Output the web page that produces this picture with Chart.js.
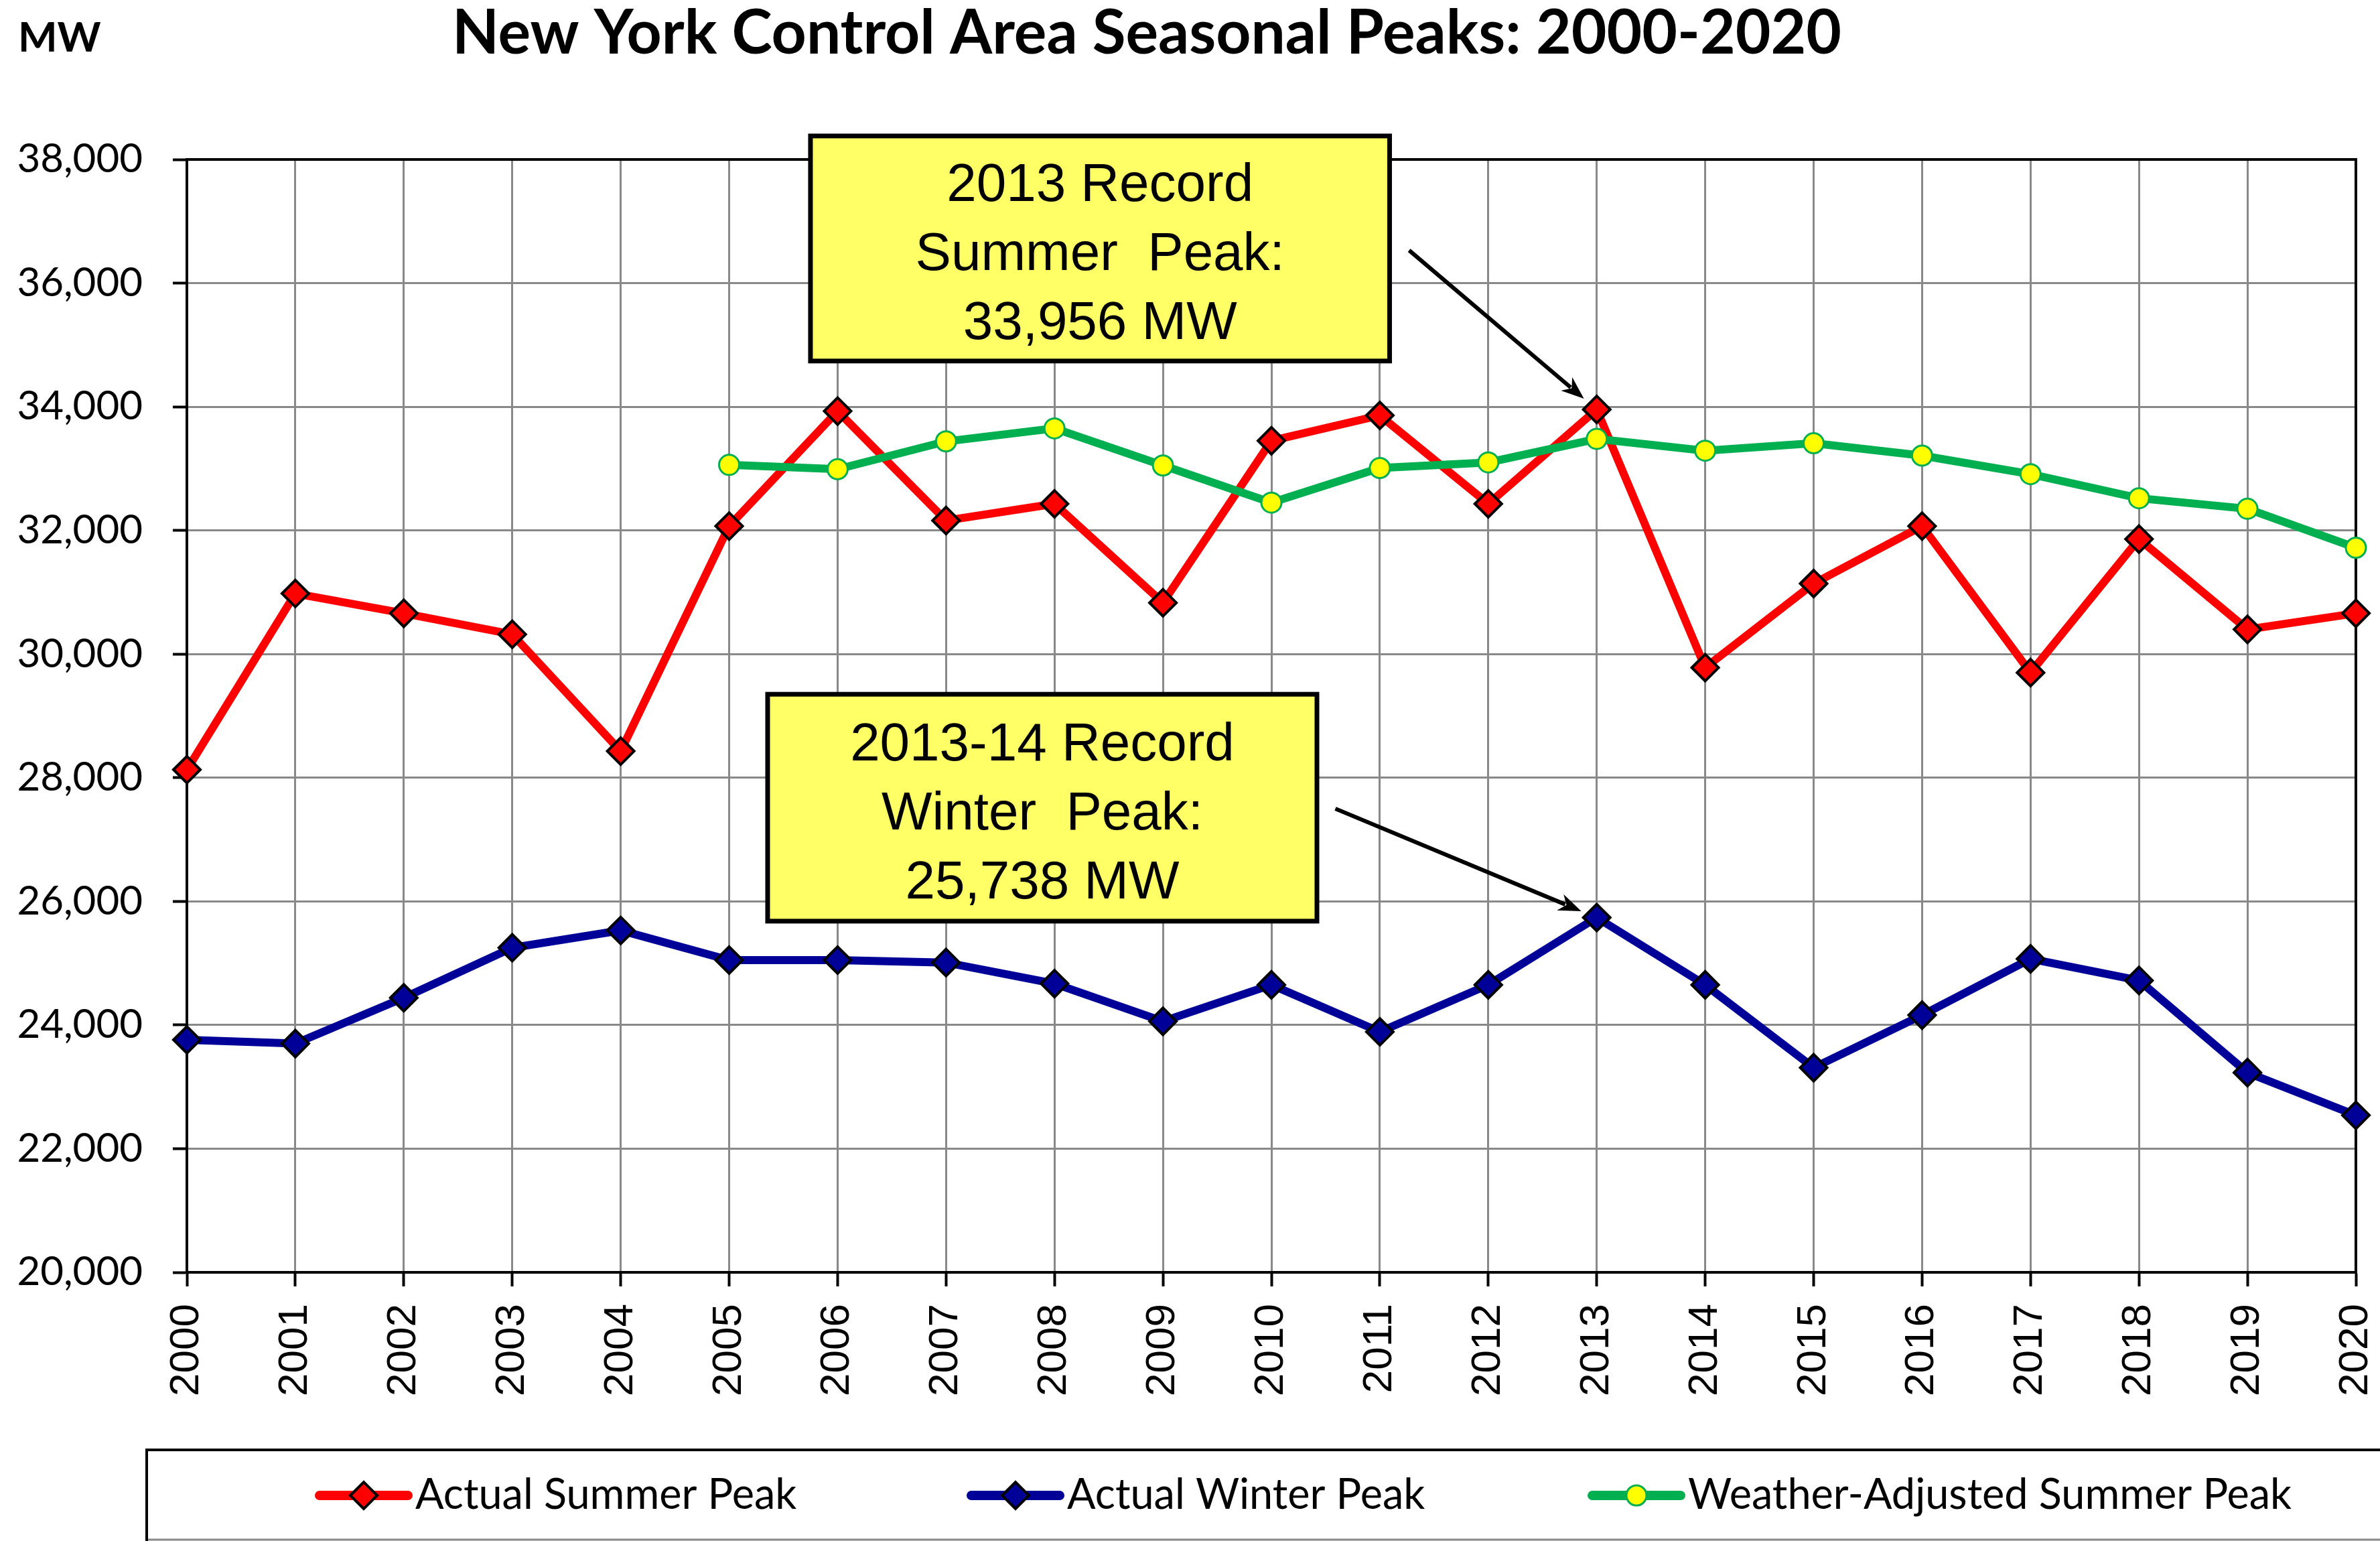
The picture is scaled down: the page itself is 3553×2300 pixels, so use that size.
<!DOCTYPE html>
<html>
<head>
<meta charset="utf-8">
<title>New York Control Area Seasonal Peaks: 2000-2020</title>
<script src="https://cdn.jsdelivr.net/npm/chart.js@4.4.1/dist/chart.umd.min.js"></script>
<style>
  html, body { margin: 0; padding: 0; background: #fff; }
  #wrap { width: 3553px; height: 2300px; }
</style>
</head>
<body>
<div id="wrap"><canvas id="peaks" width="3553" height="2300"></canvas></div>
<script>
// values (MW)
const years = ['2000', '2001', '2002', '2003', '2004', '2005', '2006', '2007', '2008', '2009', '2010',
               '2011', '2012', '2013', '2014', '2015', '2016', '2017', '2018', '2019', '2020'];
const summerPeak = [28130, 30980, 30660, 30320, 28430, 32070, 33930, 32160, 32430, 30830, 33450,
                    33860, 32430, 33956, 29780, 31140, 32070, 29700, 31860, 30400, 30660];
const winterPeak = [23760, 23700, 24440, 25250, 25530, 25050, 25050, 25010, 24670, 24060, 24650,
                    23890, 24650, 25738, 24650, 23310, 24160, 25070, 24720, 23230, 22540];
const weatherAdjusted = [null, null, null, null, null, 33060, 32990, 33440, 33650, 33050, 32450,
                         33010, 33100, 33480, 33290, 33410, 33210, 32910, 32520, 32350, 31720];
const yTickValues = [20000, 22000, 24000, 26000, 28000, 30000, 32000, 34000, 36000, 38000];

// call-out boxes, placed in data units (x = year index, y = MW)
const notes = [
    { lines: ['2013 Record', 'Summer  Peak:', '33,956 MW'],
      box: [5.75, 38380, 11.09, 34740], from: [11.27, 36530], series: 0, index: 13 },
    { lines: ['2013-14 Record', 'Winter  Peak:', '25,738 MW'],
      box: [5.355, 29350, 10.42, 25680], from: [10.59, 27500], series: 1, index: 13 }
];

const legendItems = [
    { label: 'Actual Summer Peak', series: 0, x: 477 },
    { label: 'Actual Winter Peak', series: 1, x: 1450 },
    { label: 'Weather-Adjusted Summer Peak', series: 2, x: 2377 }
];

function drawArrow(ctx, x1, y1, x2, y2) {
    const ang = Math.atan2(y2 - y1, x2 - x1);
    const headLen = 34, headHalf = 13;
    const bx = x2 - headLen * Math.cos(ang), by = y2 - headLen * Math.sin(ang);
    ctx.beginPath();
    ctx.moveTo(x1, y1);
    ctx.lineTo(bx + 8 * Math.cos(ang), by + 8 * Math.sin(ang));
    ctx.stroke();
    ctx.beginPath();
    ctx.moveTo(x2, y2);
    ctx.lineTo(bx - headHalf * Math.sin(ang), by + headHalf * Math.cos(ang));
    ctx.lineTo(bx + 10 * Math.cos(ang), by + 10 * Math.sin(ang));
    ctx.lineTo(bx + headHalf * Math.sin(ang), by - headHalf * Math.cos(ang));
    ctx.closePath();
    ctx.fill();
}

const extras = {
    id: 'extras',
    beforeDatasetsDraw(chart) {
        // black frame on top and right of the plot
        const { ctx, chartArea: a } = chart;
        ctx.save();
        ctx.strokeStyle = '#000';
        ctx.lineWidth = 4;
        ctx.beginPath();
        ctx.moveTo(a.left - 2, a.top);
        ctx.lineTo(a.right, a.top);
        ctx.lineTo(a.right, a.bottom);
        ctx.stroke();
        ctx.restore();
    },
    afterDraw(chart) {
        const { ctx } = chart;
        const xs = chart.scales.x, ys = chart.scales.y;
        ctx.save();

        // title and unit
        ctx.fillStyle = '#000';
        ctx.textBaseline = 'alphabetic';
        ctx.font = 'bold 91px Lato';
        ctx.textAlign = 'center';
        ctx.fillText('New York Control Area Seasonal Peaks: 2000-2020', 1712, 80);
        ctx.font = 'bold 62px Lato';
        ctx.textAlign = 'left';
        ctx.fillText('MW', 27, 77);

        // call-outs
        notes.forEach(n => {
            const l = xs.getPixelForValue(n.box[0]), r = xs.getPixelForValue(n.box[2]);
            const t = ys.getPixelForValue(n.box[1]), b = ys.getPixelForValue(n.box[3]);
            ctx.fillStyle = '#FFFF66';
            ctx.strokeStyle = '#000';
            ctx.lineWidth = 7;
            ctx.fillRect(l, t, r - l, b - t);
            ctx.strokeRect(l, t, r - l, b - t);
            ctx.fillStyle = '#000';
            ctx.font = '80px "Liberation Sans"';
            ctx.textAlign = 'center';
            const cx = (l + r) / 2, cy = (t + b) / 2;
            n.lines.forEach((s, i) => ctx.fillText(s, cx, cy + (i - 1) * 103 + 32));

            const pt = chart.getDatasetMeta(n.series).data[n.index];
            const fx = xs.getPixelForValue(n.from[0]), fy = ys.getPixelForValue(n.from[1]);
            const ang = Math.atan2(pt.y - fy, pt.x - fx);
            ctx.lineWidth = 6;
            drawArrow(ctx, fx, fy, pt.x - 25 * Math.cos(ang), pt.y - 25 * Math.sin(ang));
        });

        // legend box
        const top = 2164, left = 219, ly = 2232;
        ctx.strokeStyle = '#888';
        ctx.lineWidth = 3;
        ctx.beginPath();
        ctx.moveTo(left, 2298);
        ctx.lineTo(chart.width, 2298);
        ctx.stroke();
        ctx.strokeStyle = '#000';
        ctx.lineWidth = 4;
        ctx.beginPath();
        ctx.moveTo(left, 2300);
        ctx.lineTo(left, top);
        ctx.lineTo(chart.width, top);
        ctx.stroke();

        legendItems.forEach(it => {
            const ds = chart.data.datasets[it.series];
            ctx.strokeStyle = ds.borderColor;
            ctx.lineWidth = 14;
            ctx.lineCap = 'round';
            ctx.beginPath();
            ctx.moveTo(it.x, ly);
            ctx.lineTo(it.x + 132, ly);
            ctx.stroke();
            ctx.lineCap = 'butt';
            ctx.fillStyle = ds.pointBackgroundColor;
            ctx.strokeStyle = ds.pointBorderColor;
            ctx.lineWidth = ds.pointBorderWidth;
            Chart.helpers.drawPoint(ctx, {
                pointStyle: ds.pointStyle, radius: ds.pointRadius,
                borderWidth: ds.pointBorderWidth, rotation: 0
            }, it.x + 66, ly);
            ctx.fillStyle = '#000';
            ctx.font = '63px Lato';
            ctx.textAlign = 'left';
            ctx.fillText(it.label, it.x + 143, 2252);
        });
        ctx.restore();
    }
};

new Chart(document.getElementById('peaks'), {
    type: 'line',
    data: {
        labels: years,
        datasets: [{
            label: 'Actual Summer Peak',
            data: summerPeak,
            borderColor: '#FF0000',
            borderWidth: 12,
            pointStyle: 'rectRot',
            pointRadius: 20,
            pointBorderWidth: 4,
            pointBackgroundColor: '#FF0000',
            pointBorderColor: '#000',
            order: 1
        }, {
            label: 'Actual Winter Peak',
            data: winterPeak,
            borderColor: '#000099',
            borderWidth: 12,
            pointStyle: 'rectRot',
            pointRadius: 20,
            pointBorderWidth: 4,
            pointBackgroundColor: '#000099',
            pointBorderColor: '#000',
            order: 2
        }, {
            label: 'Weather-Adjusted Summer Peak',
            data: weatherAdjusted,
            borderColor: '#00B050',
            borderWidth: 12,
            pointStyle: 'circle',
            pointRadius: 15,
            pointBorderWidth: 3,
            pointBackgroundColor: '#FFFF00',
            pointBorderColor: '#00B050',
            order: 0
        }]
    },
    options: {
        responsive: false,
        devicePixelRatio: 1,
        animation: false,
        events: [],
        layout: { padding: { left: 0, top: 238, right: 36, bottom: 0 } },
        scales: {
            x: {
                afterFit: s => { s.height = 401; s.paddingLeft = 0; s.paddingRight = 0; },
                grid: { color: '#898989', lineWidth: 3, tickLength: 21, tickColor: '#000', tickWidth: 4 },
                border: { color: '#000', width: 4 },
                ticks: {
                    color: '#000',
                    font: { family: 'Liberation Sans', size: 62 },
                    minRotation: 90,
                    maxRotation: 90,
                    autoSkip: false,
                    padding: 26
                }
            },
            y: {
                min: 20000,
                max: 38000,
                afterFit: s => { s.width = 279; s.paddingTop = 0; s.paddingBottom = 0; },
                afterBuildTicks: s => { s.ticks = yTickValues.map(v => ({ value: v })); },
                grid: { color: '#898989', lineWidth: 3, tickLength: 21, tickColor: '#000', tickWidth: 4 },
                border: { color: '#000', width: 4 },
                ticks: {
                    color: '#000',
                    font: { family: 'Lato', size: 60 },
                    padding: 45,
                    callback: v => v.toLocaleString('en-US')
                }
            }
        },
        plugins: {
            legend: { display: false },
            tooltip: { enabled: false }
        }
    },
    plugins: [extras]
});
</script>
</body>
</html>
